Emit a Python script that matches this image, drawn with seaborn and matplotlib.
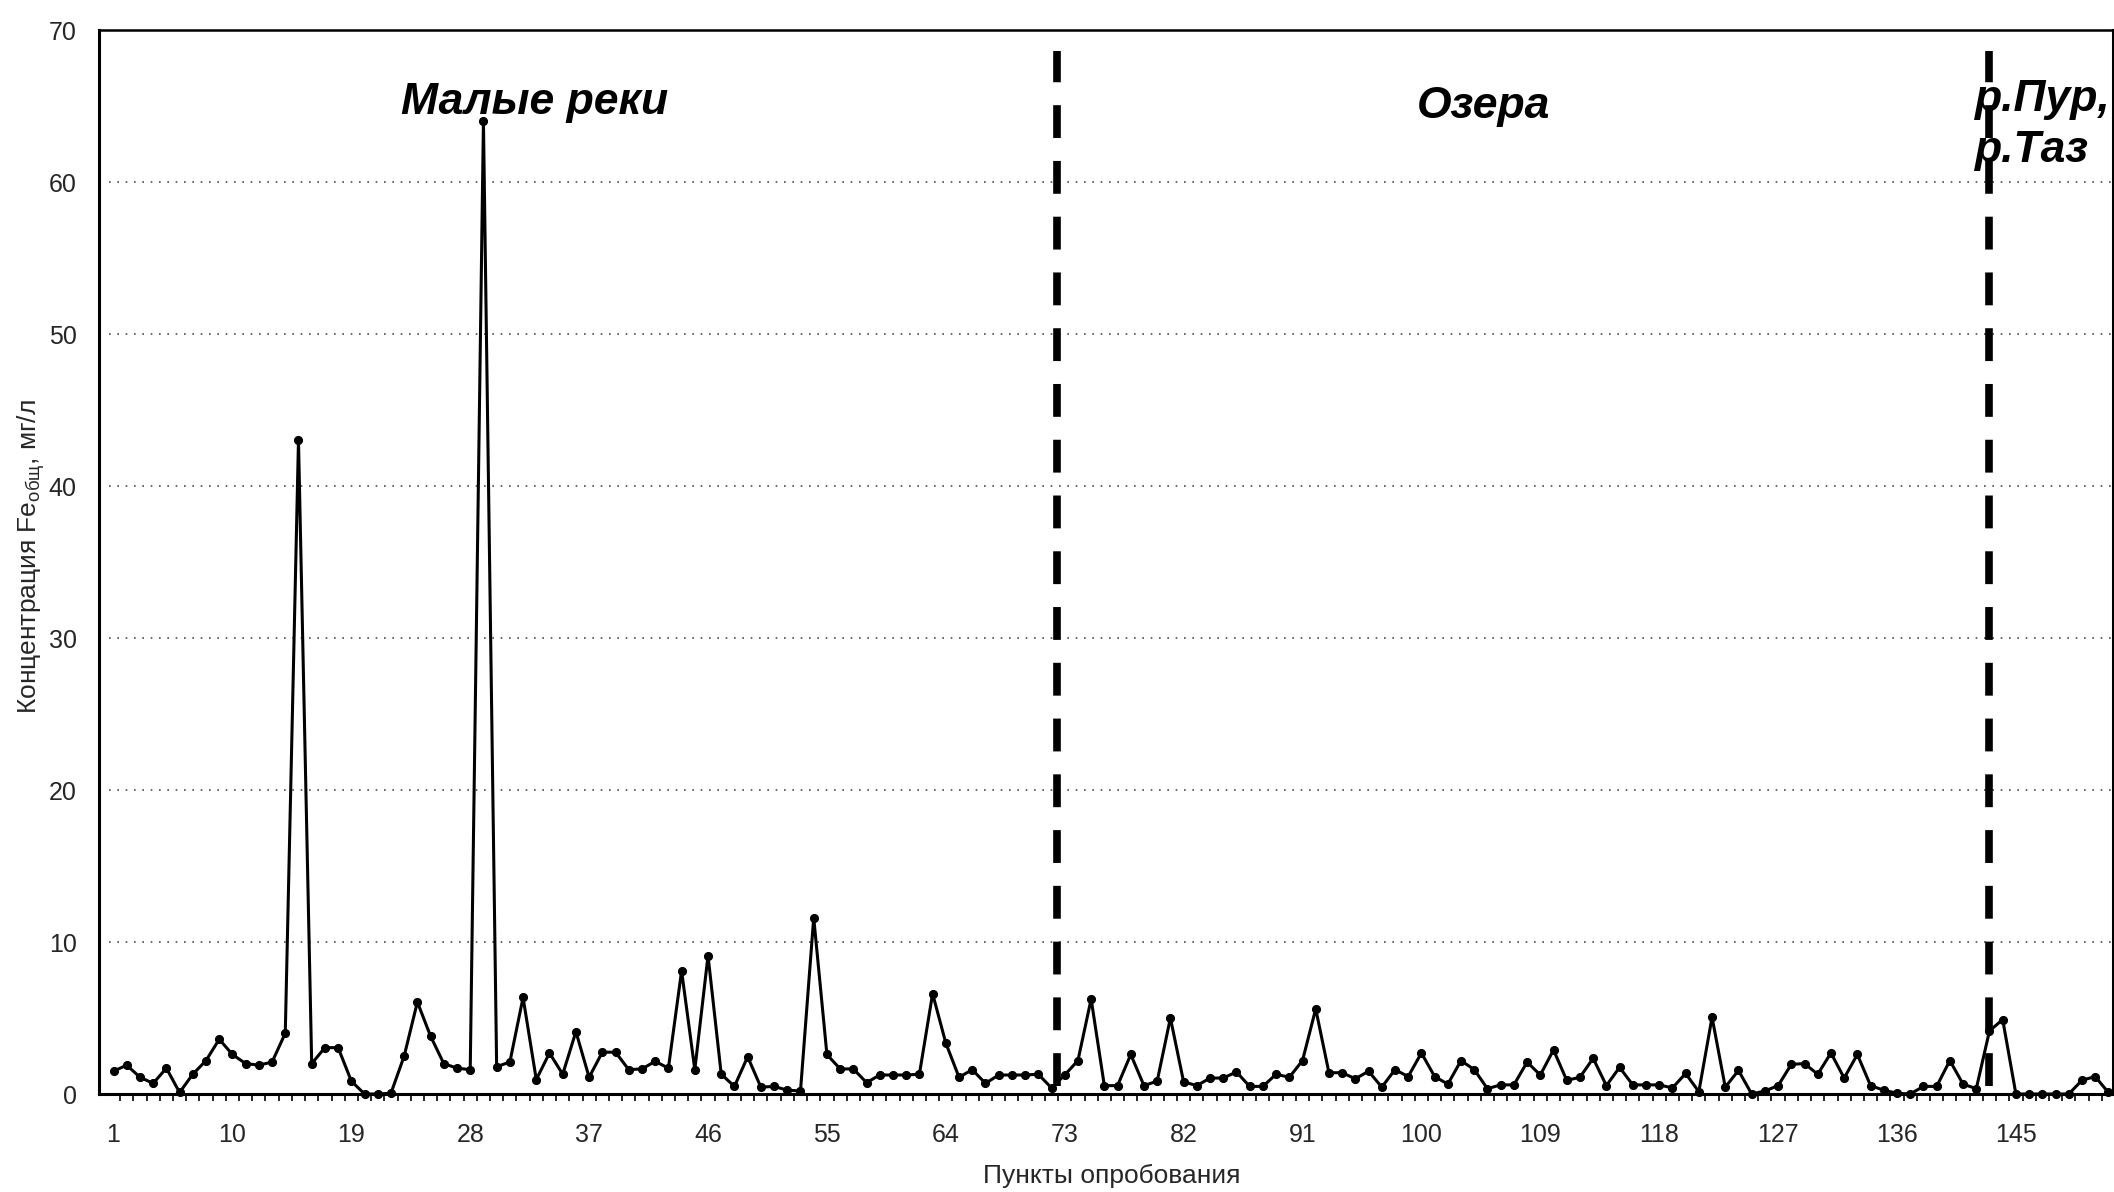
import numpy as np
import pandas as pd
import matplotlib
matplotlib.use("Agg")
import matplotlib.pyplot as plt
import seaborn as sns

# Total Fe concentration (mg/l) at each sampling point
points = list(range(1, 153))
fe_total = [
    1.5, 1.9, 1.1, 0.7, 1.7, 0.1, 1.3, 2.2, 3.6, 2.6,
    2.0, 1.9, 2.1, 4.0, 43.0, 2.0, 3.05, 3.05, 0.85, 0.0,
    0.0, 0.05, 2.5, 6.05, 3.8, 2.0, 1.7, 1.6, 64.0, 1.8,
    2.1, 6.35, 0.95, 2.7, 1.3, 4.1, 1.1, 2.75, 2.75, 1.6,
    1.65, 2.15, 1.7, 8.1, 1.6, 9.1, 1.3, 0.5, 2.45, 0.45,
    0.5, 0.25, 0.2, 11.6, 2.6, 1.65, 1.65, 0.75, 1.25, 1.25,
    1.25, 1.3, 6.6, 3.35, 1.1, 1.6, 0.7, 1.25, 1.25, 1.25,
    1.3, 0.4, 1.25, 2.2, 6.25, 0.55, 0.55, 2.6, 0.55, 0.85,
    5.0, 0.8, 0.55, 1.05, 1.05, 1.45, 0.5, 0.5, 1.3, 1.1,
    2.2, 5.6, 1.4, 1.4, 1.0, 1.5, 0.45, 1.6, 1.15, 2.7,
    1.15, 0.65, 2.2, 1.6, 0.35, 0.6, 0.6, 2.1, 1.25, 2.9,
    0.9, 1.1, 2.35, 0.55, 1.75, 0.6, 0.6, 0.6, 0.4, 1.35,
    0.15, 5.05, 0.45, 1.55, 0.0, 0.2, 0.55, 1.95, 2.0, 1.3,
    2.7, 1.05, 2.6, 0.55, 0.25, 0.05, 0.0, 0.5, 0.5, 2.2,
    0.65, 0.35, 4.15, 4.9, 0.0, 0.0, 0.0, 0.0, 0.0, 0.9,
    1.15, 0.1,
]

x_tick_labels = list(range(1, 153, 9))
y_ticks = [0, 10, 20, 30, 40, 50, 60, 70]

# Section boundaries and section names
boundaries = [72.4, 143.0]
section_names = ["Малые реки", "Озера", "р.Пур,", "р.Таз"]

sns.set_theme(style="white")
plt.rcParams["font.family"] = ["Liberation Sans", "DejaVu Sans"]
plt.rcParams["mathtext.fontset"] = "custom"
plt.rcParams["mathtext.rm"] = "Liberation Sans"
plt.rcParams["mathtext.it"] = "Liberation Sans:italic"
plt.rcParams["mathtext.bf"] = "Liberation Sans:bold"

df = pd.DataFrame({"point": points, "fe": fe_total})

fig = plt.figure(figsize=(21.14, 11.92), dpi=100)
ax = fig.add_axes([99 / 2114, 1 - 1094 / 1192, 2014 / 2114, 1064 / 1192])

# dotted horizontal grid
for yv in y_ticks[1:-1]:
    ax.axhline(yv, xmin=0.005, color="0.3", lw=1.2,
               linestyle=(0, (1, 4)), zorder=0)

sns.lineplot(data=df, x="point", y="fe", ax=ax, color="black", lw=2.2,
             marker="o", markersize=5.8, markeredgecolor="black",
             markerfacecolor="black", clip_on=False, zorder=3)

# dashed section dividers
for b in boundaries:
    ax.plot([b, b], [0.5, 68.6], color="black", lw=5.5,
            linestyle=(0, (4.3, 3.0)), zorder=4)

ax.set_xlim(-0.1, 152.35)
ax.set_ylim(0, 70)

ax.set_yticks(y_ticks)
ax.set_yticklabels([str(v) for v in y_ticks], fontsize=18)
ax.set_xticks(x_tick_labels)
ax.set_xticklabels([str(v) for v in x_tick_labels], fontsize=18)
ax.set_xticks([p + 0.5 for p in points[:-1]], minor=True)
ax.tick_params(axis="x", which="major", length=0, pad=21)
ax.tick_params(axis="x", which="minor", bottom=True, length=5, width=1.2,
               color="black", direction="out")
ax.tick_params(axis="y", which="major", length=0, pad=16)

for side in ["left", "bottom", "right", "top"]:
    ax.spines[side].set_visible(True)
    ax.spines[side].set_color("black")
ax.spines["left"].set_linewidth(2.2)
ax.spines["bottom"].set_linewidth(2.2)
ax.spines["top"].set_linewidth(1.8)
ax.spines["right"].set_linewidth(2.2)

ax.set_xlabel("Пункты опробования", fontsize=19)
ax.set_ylabel(r"Концентрация Fe$_{\mathrm{общ}}$, мг/л", fontsize=19)
ax.xaxis.set_label_coords(0.503, -0.066)
ax.yaxis.set_label_coords(-0.026, 0.505)

txt_kw = dict(fontsize=32, fontweight="bold", fontstyle="italic",
              color="black", va="baseline", zorder=5)
ax.text(32.9, 64.5, section_names[0], ha="center", **txt_kw)
ax.text(104.7, 64.2, section_names[1], ha="center", **txt_kw)
ax.text(141.9, 64.7, section_names[2], ha="left", **txt_kw)
ax.text(141.9, 61.3, section_names[3], ha="left", **txt_kw)

fig.savefig("out.png", dpi=100, facecolor="white")
